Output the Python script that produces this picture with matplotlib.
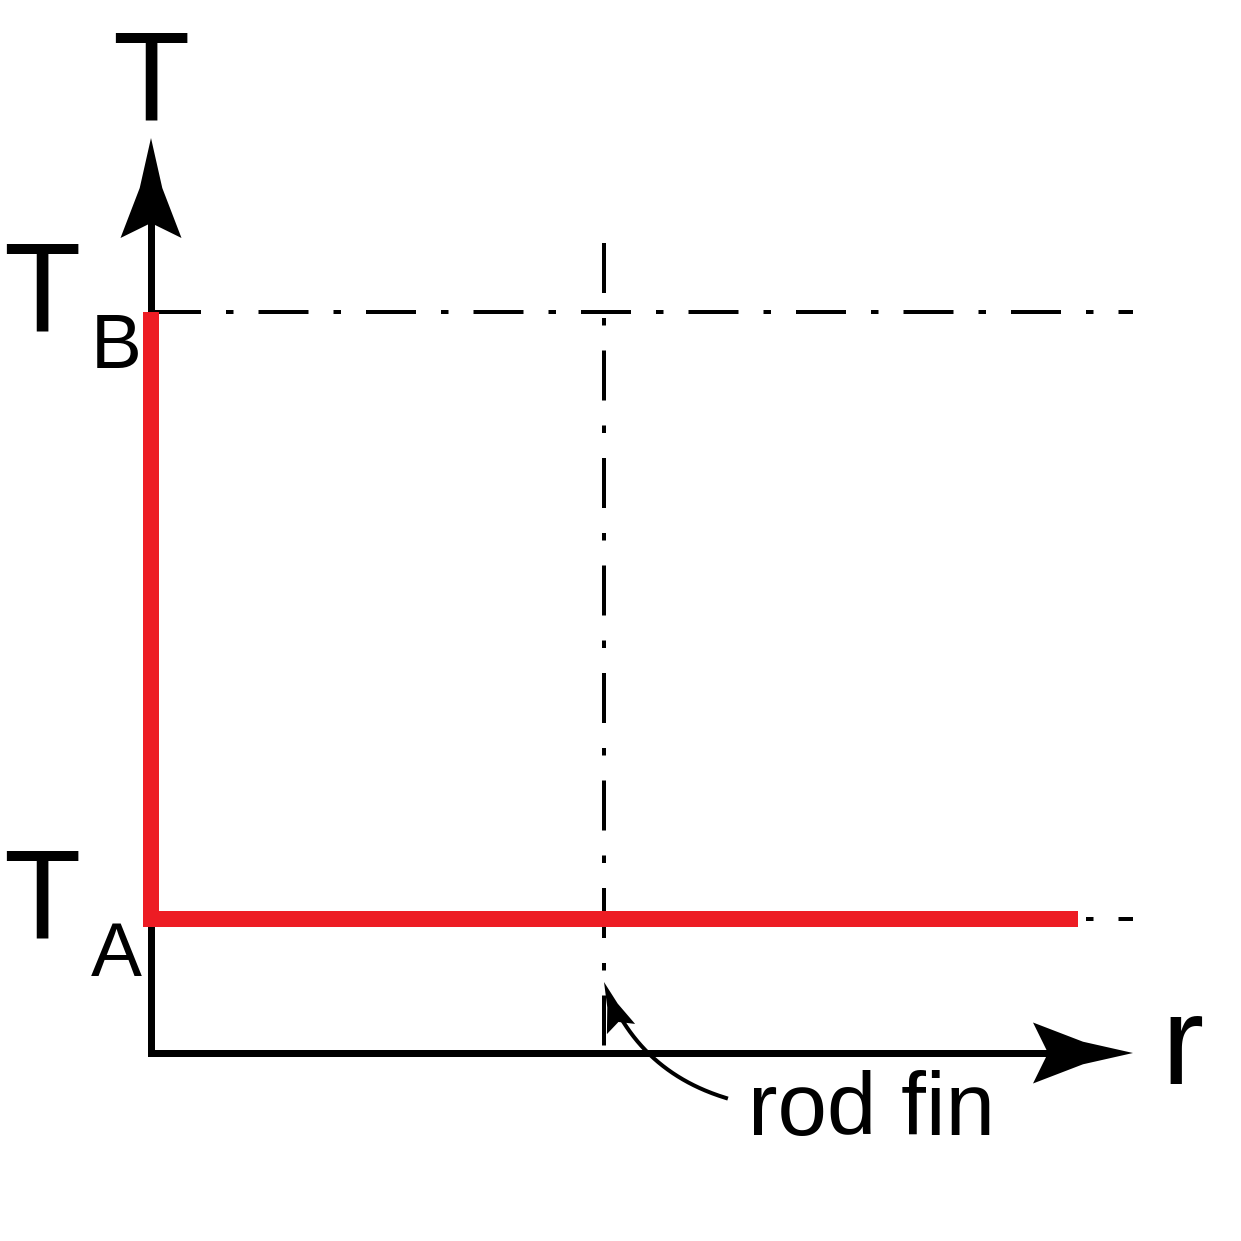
import numpy as np
import matplotlib
matplotlib.use("Agg")
from matplotlib import pyplot as plt
from matplotlib.patches import Polygon

plt.rcParams['font.family'] = ['Liberation Sans', 'DejaVu Sans']
plt.rcParams['lines.scale_dashes'] = False

# schematic values (1 unit = 100 px of the original drawing)
T_A = 1.34
T_B = 7.41
r_fin = 4.53
r_max = 9.82           # tip of r axis
T_max = 9.15           # tip of T axis
guide_top = 8.10       # top of the fin guide line

profile_r = [0, 0, 9.27]
profile_T = [T_B, T_A, T_A]

levels = [T_A, T_B]
level_names = ['A', 'B']

# "rod fin" pointer: tail and tip
pointer_tail = (5.75, -0.45)
pointer_tip = (r_fin, 0.71)

RED = '#ED1C24'
PX = 0.72  # points per pixel at dpi 100
dashdot = (0, (50 * PX, 25 * PX, 7.5 * PX, 25 * PX))


def stealth(ax, tip, direction, length, half_w, **kw):
    d = np.asarray(direction, float)
    d = d / np.hypot(*d)
    n = np.array([-d[1], d[0]])
    tip = np.asarray(tip, float)
    pts = [tip,
           tip - 0.5 * length * d + 0.37 * half_w * n,
           tip - length * d + half_w * n,
           tip - 0.85 * length * d,
           tip - length * d - half_w * n,
           tip - 0.5 * length * d - 0.37 * half_w * n]
    ax.add_patch(Polygon(pts, closed=True, facecolor='black', edgecolor='none', **kw))


fig = plt.figure(figsize=(12.41, 12.41), dpi=100)
ax = fig.add_axes([0, 0, 1, 1])
ax.set_xlim(-1.51, 10.90)
ax.set_ylim(-1.88, 10.53)
ax.axis('off')

# guide lines
for T in levels:
    ax.plot([0, r_max], [T, T], color='black', lw=4 * PX, ls=dashdot, zorder=1)
ax.plot([r_fin, r_fin], [guide_top, 0], color='black', lw=4 * PX, ls=dashdot, zorder=1)

# axes with arrows
head_len, head_w = 1.0, 0.305
ax.plot([0, 0, r_max - 0.85 * head_len], [T_max - 0.85 * head_len, 0, 0],
        color='black', lw=7 * PX, solid_joinstyle='miter', zorder=2)
stealth(ax, (0, T_max), (0, 1), head_len, head_w, zorder=4)
stealth(ax, (r_max, 0), (1, 0), head_len, head_w, zorder=4)

# temperature profile
ax.plot(profile_r, profile_T, color=RED, lw=16 * PX, solid_joinstyle='miter',
        solid_capstyle='butt', zorder=3)

# labels
ax.text(0, T_max + 0.18, 'T', fontsize=91, ha='center', va='baseline')
for T, name in zip(levels, level_names):
    ax.text(-1.09, T - 0.185, 'T', fontsize=91, ha='center', va='baseline')
    ax.text(-0.35, T - 0.565, name, fontsize=55, ha='center', va='baseline')
ax.text(r_max + 0.49, -0.31, 'r', fontsize=91, ha='center', va='baseline')

# curved pointer to the fin
A = np.array(pointer_tail)
B = np.array(pointer_tip)
rad = -0.25
mid = (A + B) / 2
dx, dy = B - A
C = mid + rad * np.array([dy, -dx])
t = np.linspace(0, 1, 200)[:, None]
curve = (1 - t) ** 2 * A + 2 * (1 - t) * t * C + t ** 2 * B
keep = np.hypot(*(curve - B).T) > 0.38
ax.plot(curve[keep, 0], curve[keep, 1], color='black', lw=4 * PX, zorder=4)
stealth(ax, B, B - C, 0.5, 0.15, zorder=4)
ax.text(7.20, -0.82, 'rod fin', fontsize=64, ha='center', va='baseline')

fig.savefig('out.png', dpi=100)
